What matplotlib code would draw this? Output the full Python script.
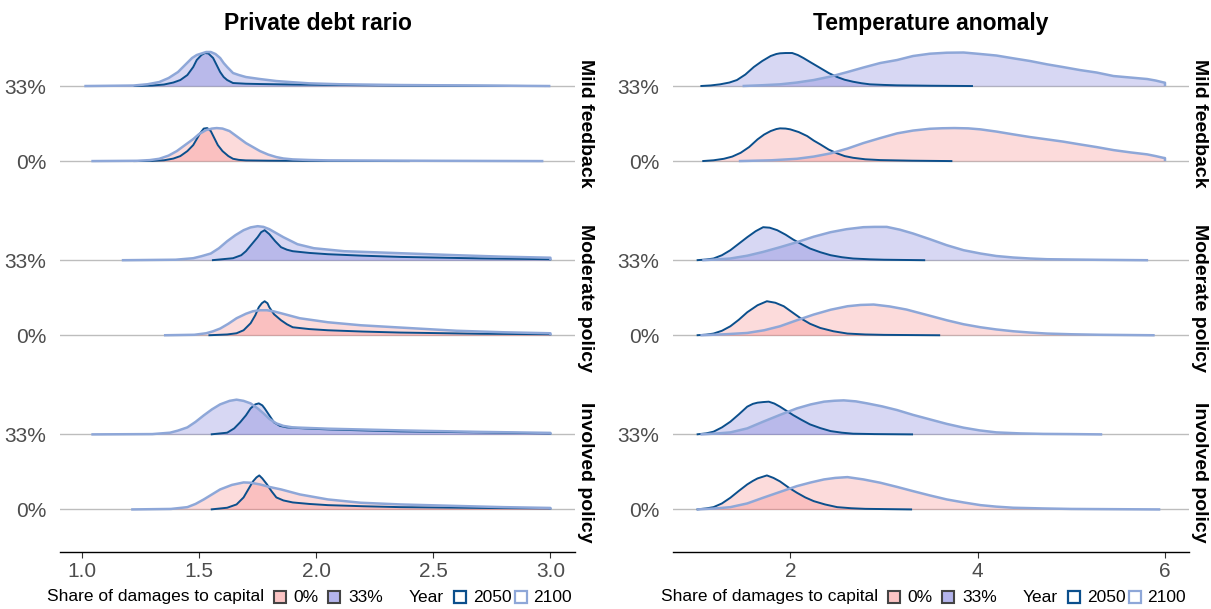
import numpy as np
import matplotlib.pyplot as plt
from matplotlib.patches import Rectangle

plt.rcParams['font.family'] = ['Liberation Sans', 'DejaVu Sans']

# ============================
# DATA (density heights, ridge spacing = 75)
# ============================
variables = ["Private debt rario", "Temperature anomaly"]
scenarios = ["Mild feedback", "Moderate policy", "Involved policy"]
shares = ["0%", "33%"]
years = ["2050", "2100"]

debt_ticks = [1.0, 1.5, 2.0, 2.5, 3.0]
temp_ticks = [2, 4, 6]

# private debt ratio
debt_mild_0_2050 = ([1.22, 1.30, 1.35, 1.39, 1.42, 1.45, 1.475, 1.49, 1.505, 1.52, 1.535, 1.55, 1.565, 1.58, 1.60, 1.625, 1.645, 1.67, 1.70, 1.80, 2.0, 2.4],
                    [0, 0.2, 0.8, 2.5, 5, 10, 16, 22, 28, 32.5, 33, 30, 23, 16, 10, 5, 2.3, 1.2, 0.7, 0.4, 0.2, 0])
debt_mild_0_2100 = ([1.04, 1.235, 1.29, 1.33, 1.37, 1.405, 1.44, 1.475, 1.50, 1.53, 1.555, 1.575, 1.60, 1.63, 1.665, 1.70, 1.73, 1.76, 1.795, 1.83, 1.86, 1.90, 1.97, 2.05, 2.5, 2.97],
                    [0, 0.3, 1.0, 2.3, 5.5, 10, 16, 22, 27, 31, 32.5, 33, 32.5, 30, 24, 18, 14, 10, 6.5, 4, 2.6, 1.7, 1.1, 0.7, 0.3, 0])
debt_mild_33_2050 = ([1.22, 1.30, 1.35, 1.39, 1.42, 1.45, 1.475, 1.49, 1.51, 1.525, 1.54, 1.56, 1.575, 1.59, 1.605, 1.62, 1.645, 1.70, 1.76, 1.90, 2.36, 2.98],
                     [0, 0.5, 1.5, 3.5, 6, 11, 19, 26, 31, 33, 32.5, 28, 21, 14, 9, 6, 3, 2.3, 2, 1.5, 0.5, 0])
debt_mild_33_2100 = ([1.01, 1.22, 1.28, 1.33, 1.37, 1.41, 1.44, 1.47, 1.49, 1.51, 1.53, 1.55, 1.57, 1.59, 1.605, 1.62, 1.645, 1.67, 1.70, 1.76, 1.83, 1.90, 1.97, 2.1, 2.36, 2.7, 3.0],
                     [0, 0.5, 1.8, 4, 8, 14, 21, 28, 31, 32.5, 34, 34, 32, 28, 23, 19, 13, 11, 9, 7, 5, 3.8, 2.7, 1.8, 1, 0.5, 0])

debt_mod_0_2050 = ([1.54, 1.62, 1.66, 1.69, 1.72, 1.74, 1.755, 1.768, 1.78, 1.792, 1.80, 1.82, 1.85, 1.875, 1.90, 1.97, 2.05, 2.2, 2.36, 2.7, 3.0, 3.0],
                   [0, 0.8, 2, 5, 12, 20, 28, 32, 34, 32, 28, 21, 15, 11, 8, 6.2, 5, 3.7, 2.7, 1.5, 1, 0])
debt_mod_0_2100 = ([1.35, 1.48, 1.53, 1.56, 1.59, 1.625, 1.66, 1.70, 1.73, 1.76, 1.79, 1.82, 1.85, 1.89, 1.93, 2.05, 2.19, 2.36, 2.6, 2.8, 3.0, 3.0],
                   [0, 0.5, 2, 4, 6.7, 11.5, 17, 21.5, 24, 25, 25, 23.8, 22, 19.5, 17, 13, 10, 7.7, 4.5, 3, 2, 0])
debt_mod_33_2050 = ([1.555, 1.645, 1.68, 1.70, 1.725, 1.75, 1.765, 1.78, 1.80, 1.825, 1.85, 1.875, 1.90, 1.97, 2.05, 2.2, 2.36, 2.7, 3.0, 3.0],
                    [0, 2, 5, 9, 16, 23, 28, 30, 26, 19, 13, 10.5, 9, 7.3, 6, 4.5, 3.3, 1.8, 1, 0])
debt_mod_33_2100 = ([1.17, 1.40, 1.475, 1.51, 1.55, 1.585, 1.62, 1.655, 1.69, 1.72, 1.75, 1.775, 1.80, 1.83, 1.86, 1.92, 1.99, 2.12, 2.36, 2.6, 2.8, 3.0, 3.0],
                    [0, 0.5, 2, 4, 6.7, 12, 19, 25, 30, 32.8, 34, 33.3, 31, 27, 23, 16, 12, 9, 7, 5, 3.5, 2.5, 0])

debt_inv_0_2050 = ([1.55, 1.62, 1.66, 1.69, 1.71, 1.73, 1.745, 1.757, 1.77, 1.79, 1.81, 1.83, 1.86, 1.90, 1.97, 2.05, 2.2, 2.36, 2.7, 3.0, 3.0],
                   [0, 1.7, 5, 12, 20, 28, 32, 34, 31, 25, 18, 12, 9, 7, 5.5, 4.3, 3.2, 2.3, 1.5, 1, 0])
debt_inv_0_2100 = ([1.21, 1.38, 1.45, 1.485, 1.52, 1.555, 1.59, 1.64, 1.69, 1.72, 1.76, 1.80, 1.85, 1.93, 2.05, 2.19, 2.36, 2.6, 2.8, 3.0, 3.0],
                   [0, 0.5, 2.3, 5.5, 10, 15, 20, 24.5, 27, 26.7, 25, 22.5, 20, 15, 10, 6.7, 5, 3.5, 2.3, 1.5, 0])
debt_inv_33_2050 = ([1.55, 1.62, 1.65, 1.675, 1.70, 1.72, 1.74, 1.755, 1.77, 1.78, 1.80, 1.82, 1.845, 1.875, 1.95, 2.05, 2.2, 2.36, 2.7, 3.0, 3.0],
                    [0, 1.7, 6, 12, 19, 26, 30, 31, 29, 26, 19, 12, 8.5, 7, 6, 5, 4, 3, 2, 1, 0])
debt_inv_33_2100 = ([1.04, 1.30, 1.376, 1.41, 1.45, 1.485, 1.52, 1.555, 1.59, 1.63, 1.66, 1.69, 1.72, 1.75, 1.775, 1.80, 1.83, 1.86, 1.90, 2.05, 2.36, 2.7, 3.0, 3.0],
                    [0, 0.3, 1.7, 3.8, 7, 12.5, 19, 25, 30, 33.5, 34.7, 33.5, 31, 26, 21, 15.5, 11, 8.5, 7, 5.7, 4, 2.5, 1.5, 0])

# temperature anomaly
temp_mild_0_2050 = ([1.06, 1.18, 1.29, 1.38, 1.47, 1.56, 1.65, 1.72, 1.79, 1.85, 1.89, 1.95, 2.0, 2.09, 2.18, 2.25, 2.32, 2.41, 2.50, 2.58, 2.67, 2.8, 2.96, 3.3, 3.73],
                    [0, 0.8, 2.3, 4.5, 8.3, 14, 21.7, 26.5, 30, 32, 32.7, 32.5, 31.7, 29, 25, 20.5, 16.7, 11.5, 7.7, 5, 3.3, 1.8, 1, 0.4, 0])
temp_mild_0_2100 = ([1.45, 1.8, 2.07, 2.25, 2.43, 2.61, 2.78, 2.96, 3.14, 3.31, 3.49, 3.62, 3.75, 3.9, 4.03, 4.2, 4.38, 4.56, 4.74, 4.91, 5.09, 5.27, 5.45, 5.63, 5.81, 5.9, 5.98, 6.0, 6.0],
                    [0, 0.8, 2.3, 4.5, 7.7, 12.5, 18, 23, 27.7, 30.5, 32.3, 32.8, 33, 32.7, 31.7, 29.5, 26.7, 24, 21.7, 19.5, 16.7, 14, 11, 8.7, 6.7, 5, 3.3, 3, 0])
temp_mild_33_2050 = ([1.04, 1.15, 1.25, 1.35, 1.43, 1.52, 1.61, 1.70, 1.79, 1.85, 1.89, 1.95, 2.02, 2.08, 2.14, 2.22, 2.32, 2.41, 2.50, 2.58, 2.67, 2.76, 2.85, 3.0, 3.14, 3.5, 3.95],
                     [0, 0.6, 1.7, 3.5, 6, 11.5, 19, 25, 30, 32, 32.7, 33, 33, 31, 28, 23.5, 18, 13, 9, 6.3, 4.3, 2.8, 1.7, 1.1, 0.7, 0.3, 0])
temp_mild_33_2100 = ([1.49, 1.7, 1.89, 2.07, 2.25, 2.43, 2.61, 2.78, 2.96, 3.14, 3.31, 3.49, 3.67, 3.85, 4.03, 4.2, 4.38, 4.56, 4.74, 4.91, 5.09, 5.27, 5.45, 5.63, 5.81, 5.9, 5.98, 6.0, 6.0],
                     [0, 0.8, 1.7, 3.5, 6, 9.5, 14, 18.5, 23, 26, 30, 32.3, 33.3, 33.5, 32, 30.5, 27.7, 25, 21.7, 19, 16, 13.5, 10, 8.5, 7, 5.5, 3.7, 3.3, 0])

temp_mod_0_2050 = ([1.0, 1.1, 1.18, 1.27, 1.36, 1.45, 1.54, 1.65, 1.75, 1.84, 1.93, 2.02, 2.11, 2.21, 2.32, 2.46, 2.61, 2.8, 3.0, 3.6],
                   [0, 0.6, 1.7, 4.5, 9, 15.5, 23, 30, 34, 32.5, 29, 23, 17, 11.5, 7.3, 4, 1.7, 0.8, 0.4, 0])
temp_mod_0_2100 = ([1.04, 1.3, 1.54, 1.72, 1.89, 2.07, 2.25, 2.43, 2.61, 2.75, 2.89, 3.06, 3.24, 3.45, 3.67, 3.85, 4.03, 4.2, 4.38, 4.56, 4.74, 5.0, 5.3, 5.89],
                   [0, 1, 2.3, 5, 9, 15, 20.7, 25.5, 29, 30.3, 30.7, 28.8, 25.7, 20.5, 15, 11, 8, 5.8, 4, 2.7, 1.7, 1, 0.5, 0])
temp_mod_33_2050 = ([1.0, 1.1, 1.18, 1.27, 1.36, 1.45, 1.54, 1.63, 1.71, 1.78, 1.86, 1.95, 2.03, 2.12, 2.21, 2.32, 2.43, 2.55, 2.67, 2.85, 3.0, 3.44],
                    [0, 0.7, 1.7, 5, 10, 16.5, 23, 29, 33, 32.5, 30, 25.5, 20.7, 16, 11.7, 8, 5, 3, 1.7, 0.9, 0.5, 0])
temp_mod_33_2100 = ([1.06, 1.2, 1.36, 1.54, 1.71, 1.89, 2.07, 2.25, 2.43, 2.6, 2.78, 2.9, 3.03, 3.17, 3.31, 3.49, 3.67, 3.85, 4.03, 4.2, 4.38, 4.56, 4.74, 5.0, 5.3, 5.82],
                    [0, 0.7, 1.7, 4.5, 8.3, 13, 18, 23.5, 28, 31, 33, 33.3, 33.3, 30.5, 26.7, 21, 15, 10, 6.7, 4.2, 2.7, 1.7, 1, 0.7, 0.4, 0])

temp_inv_0_2050 = ([1.0, 1.1, 1.18, 1.27, 1.36, 1.45, 1.54, 1.6, 1.65, 1.7, 1.75, 1.82, 1.89, 1.98, 2.07, 2.16, 2.25, 2.37, 2.50, 2.65, 2.8, 3.3],
                   [0, 1, 2.3, 6, 11.7, 18.5, 25, 28.5, 31, 32.5, 34, 31.5, 28, 22, 16.7, 12, 8.3, 5, 2.3, 1.2, 0.6, 0])
temp_inv_0_2100 = ([1.0, 1.2, 1.36, 1.54, 1.71, 1.89, 2.07, 2.22, 2.36, 2.48, 2.61, 2.78, 2.96, 3.14, 3.31, 3.49, 3.67, 3.85, 4.03, 4.2, 4.38, 4.7, 5.0, 5.95],
                   [0, 1, 2.3, 6, 11.7, 17.5, 23.3, 27, 30, 31.5, 32.3, 30, 26.7, 22.5, 18.3, 14, 10, 7, 4.3, 2.8, 1.7, 1, 0.5, 0])
temp_inv_33_2050 = ([1.0, 1.1, 1.18, 1.27, 1.36, 1.45, 1.54, 1.6, 1.65, 1.71, 1.77, 1.83, 1.89, 1.96, 2.03, 2.12, 2.21, 2.32, 2.43, 2.55, 2.67, 2.9, 3.31],
                    [0, 1, 2.7, 7, 12.7, 20, 27.7, 30.5, 31.7, 32.3, 32.7, 30.8, 27.7, 23.5, 19.3, 14.5, 10, 6.3, 3.3, 1.7, 0.7, 0.3, 0])
temp_inv_33_2100 = ([1.04, 1.2, 1.36, 1.54, 1.71, 1.89, 2.07, 2.22, 2.36, 2.47, 2.57, 2.7, 2.82, 2.98, 3.14, 3.31, 3.49, 3.67, 3.85, 4.02, 4.2, 4.45, 4.7, 5.0, 5.33],
                    [0, 0.8, 2, 6, 12.7, 19.5, 26, 30, 32.7, 33.6, 34, 33, 31, 28, 24.3, 19.5, 15, 10.5, 6.7, 4, 2, 1, 0.5, 0.3, 0])

curves = {
    (0, 0): {("0%", "2050"): debt_mild_0_2050, ("0%", "2100"): debt_mild_0_2100,
             ("33%", "2050"): debt_mild_33_2050, ("33%", "2100"): debt_mild_33_2100},
    (1, 0): {("0%", "2050"): debt_mod_0_2050, ("0%", "2100"): debt_mod_0_2100,
             ("33%", "2050"): debt_mod_33_2050, ("33%", "2100"): debt_mod_33_2100},
    (2, 0): {("0%", "2050"): debt_inv_0_2050, ("0%", "2100"): debt_inv_0_2100,
             ("33%", "2050"): debt_inv_33_2050, ("33%", "2100"): debt_inv_33_2100},
    (0, 1): {("0%", "2050"): temp_mild_0_2050, ("0%", "2100"): temp_mild_0_2100,
             ("33%", "2050"): temp_mild_33_2050, ("33%", "2100"): temp_mild_33_2100},
    (1, 1): {("0%", "2050"): temp_mod_0_2050, ("0%", "2100"): temp_mod_0_2100,
             ("33%", "2050"): temp_mod_33_2050, ("33%", "2100"): temp_mod_33_2100},
    (2, 1): {("0%", "2050"): temp_inv_0_2050, ("0%", "2100"): temp_inv_0_2100,
             ("33%", "2050"): temp_inv_33_2050, ("33%", "2100"): temp_inv_33_2100},
}

# ============================
# STYLE
# ============================
HEIGHT_SCALE = 75.0
fill_colors = {"0%": "#f77373", "33%": "#6363d3"}
line_colors = {"2050": "#0b4f8c", "2100": "#8ea7d8"}
line_widths = {"2050": 1.4, "2100": 1.8}
xlims = [(0.906, 3.107), (0.752, 6.256)]
xticks = [debt_ticks, temp_ticks]
xticklabels = [[f"{t:.1f}" for t in debt_ticks], [str(t) for t in temp_ticks]]
tick_grey = "#4d4d4d"

fig = plt.figure(figsize=(12.11, 6.09), dpi=100)
gs = fig.add_gridspec(3, 2, left=0.0495, right=0.9818, top=0.9286, bottom=0.0936,
                      hspace=0.0875, wspace=0.19)

for row in range(3):
    for col in range(2):
        ax = fig.add_subplot(gs[row, col])
        ax.set_xlim(*xlims[col])
        ax.set_ylim(-0.567, 1.567)
        for s in range(len(shares)):
            ax.axhline(s, color="#bdbdbd", lw=1.0, zorder=0)

        panel = curves[(row, col)]
        for s, share in enumerate(shares):
            for year in years:
                x, h = panel[(share, year)]
                top = s + np.array(h) / HEIGHT_SCALE
                ax.fill_between(x, s, top, color=fill_colors[share], alpha=0.25, lw=0, zorder=2)
        for s, share in enumerate(shares):
            for year in years:
                x, h = panel[(share, year)]
                top = s + np.array(h) / HEIGHT_SCALE
                ax.plot(x, top, color=line_colors[year], lw=line_widths[year],
                        solid_joinstyle="round", solid_capstyle="butt", zorder=3)

        ax.set_yticks(range(len(shares)))
        ax.set_yticklabels(shares, fontsize=15, color=tick_grey)
        ax.tick_params(axis="y", length=0, pad=10)
        for side in ["top", "right", "left"]:
            ax.spines[side].set_visible(False)

        if row == 2:
            ax.set_xticks(xticks[col])
            ax.set_xticklabels(xticklabels[col], fontsize=15, color=tick_grey)
            ax.tick_params(axis="x", length=4, width=0.8, color="#333333", pad=3)
            ax.spines["bottom"].set_color("black")
            ax.spines["bottom"].set_linewidth(1.0)
        else:
            ax.set_xticks([])
            ax.spines["bottom"].set_visible(False)

        ax.text(1.02, 0.5, scenarios[row], transform=ax.transAxes, rotation=-90,
                ha="center", va="center", fontsize=14, fontweight="bold")
        if row == 0:
            ax.set_title(variables[col], fontsize=16.5, fontweight="bold", pad=10)

# ============================
# LEGENDS (one under each column)
# ============================
W, H = 1211.0, 609.0


def draw_legend(x0):
    yc = 597
    def fx(px):
        return (x0 + px) / W
    fy = 1 - yc / H
    bh = 12 / H
    bw = 12 / W
    kw = dict(fontsize=12.5, va="center", ha="left")
    fig.text(fx(0), fy, "Share of damages to capital", **kw)
    fig.patches.append(Rectangle((fx(227), fy - bh / 2), bw, bh, transform=fig.transFigure,
                                 facecolor="#fbc4c4", edgecolor="#444444", lw=1.5))
    fig.text(fx(246), fy, "0%", **kw)
    fig.patches.append(Rectangle((fx(281), fy - bh / 2), bw, bh, transform=fig.transFigure,
                                 facecolor="#b4b4ec", edgecolor="#444444", lw=1.5))
    fig.text(fx(301), fy, "33%", **kw)
    fig.text(fx(362), fy, "Year", **kw)
    fig.patches.append(Rectangle((fx(407), fy - bh / 2), bw, bh, transform=fig.transFigure,
                                 facecolor="white", edgecolor=line_colors["2050"], lw=1.6))
    fig.text(fx(426), fy, "2050", **kw)
    fig.patches.append(Rectangle((fx(468), fy - bh / 2), bw, bh, transform=fig.transFigure,
                                 facecolor="white", edgecolor=line_colors["2100"], lw=1.6))
    fig.text(fx(486), fy, "2100", **kw)


draw_legend(47)
draw_legend(661)

fig.savefig("out.png", dpi=100)
